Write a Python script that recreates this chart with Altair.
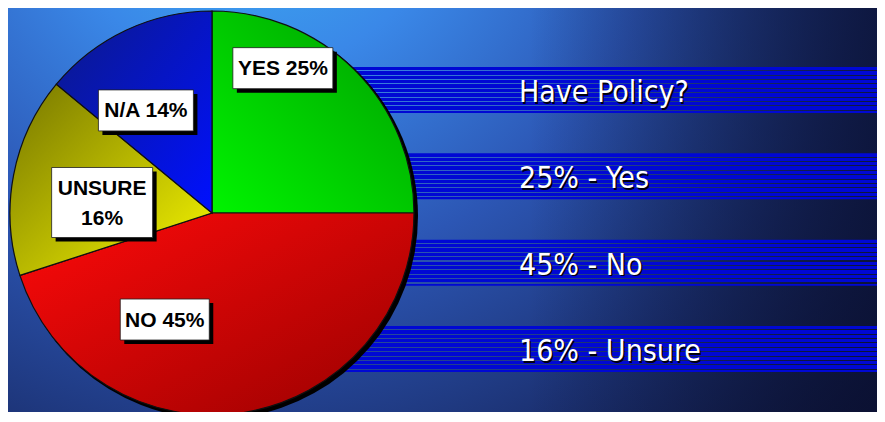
import altair as alt

# ---- data ----
categories = ["YES", "NO", "UNSURE", "N/A"]
values = [25, 45, 16, 14]
slice_labels = ["YES 25%", "NO 45%", "UNSURE\n16%", "N/A 14%"]
legend_lines = ["Have Policy?", "25% - Yes", "45% - No", "16% - Unsure"]

# ---- layout / style ----
W, H = 869, 404
CX, CY, R = 204, 205, 202
RL = 120  # label anchor radius
LH = 30   # label line height

slice_style = {
    "YES": dict(grad=(0, 1, 1, 0, "#00f400", "#009c00"), nudge=(-14, -60), box=(100, 41)),
    "NO": dict(grad=(0, 0, 1, 1, "#ff0a0a", "#980000"), nudge=(-66, -12), box=(89, 41)),
    "UNSURE": dict(grad=(0, 0, 1, 1, "#767600", "#f8f800"), nudge=(8, 12), box=(101, 70)),
    "N/A": dict(grad=(0, 0, 1, 1, "#0c1a88", "#0010ff"), nudge=(-15, 6), box=(95, 41)),
}

slices = [
    {"cat": c, "value": v, "label": l, "order": i}
    for i, (c, v, l) in enumerate(zip(categories, values, slice_labels))
]
lines = [{"line": t, "idx": i} for i, t in enumerate(legend_lines)]


def lin(x1, y1, x2, y2, c1, c2):
    return {"gradient": "linear", "x1": x1, "y1": y1, "x2": x2, "y2": y2,
            "stops": [{"offset": 0, "color": c1}, {"offset": 1, "color": c2}]}


one = alt.Data(values=[{"a": 1}])

# background
bg = alt.Chart(one).mark_rect(
    fill={"gradient": "radial", "x1": 0.28, "y1": 0.1, "x2": 0.28, "y2": 0.1,
          "r1": 0, "r2": 0.95,
          "stops": [{"offset": 0, "color": "#3cb6f4"},
                    {"offset": 0.25, "color": "#3a88e8"},
                    {"offset": 0.5, "color": "#2c56b4"},
                    {"offset": 0.75, "color": "#1c3274"},
                    {"offset": 1, "color": "#0e1436"}]}
).encode(x=alt.value(0), x2=alt.value(W), y=alt.value(0), y2=alt.value(H))

bg_dark = alt.Chart(one).mark_rect(
    fill={"gradient": "linear", "x1": 0, "y1": 0, "x2": 1, "y2": 0,
          "stops": [{"offset": 0, "color": "rgba(10,16,50,0)"},
                    {"offset": 0.6, "color": "rgba(10,16,50,0)"},
                    {"offset": 1, "color": "rgba(10,16,50,0.75)"}]}
).encode(x=alt.value(0), x2=alt.value(W), y=alt.value(0), y2=alt.value(H))

# striped bands
BLUE = "#0008d4"
CLEAR = "rgba(0,8,212,0)"
BH = 46
stops = [{"offset": 0, "color": BLUE}]
for i in range(10):
    g0 = (3.2 + 4.4 * i) / BH
    g1 = g0 + 1.1 / BH
    stops += [{"offset": g0, "color": BLUE}, {"offset": g0, "color": CLEAR},
              {"offset": g1, "color": CLEAR}, {"offset": g1, "color": BLUE}]
stops.append({"offset": 1, "color": BLUE})

yscale = alt.Scale(domain=[0, 3], range=[82, 341])

bands = alt.Chart(alt.Data(values=lines)).mark_rect(
    fill={"gradient": "linear", "x1": 0, "y1": 0, "x2": 0, "y2": 1, "stops": stops},
    yOffset=-23, y2Offset=23,
).encode(
    x=alt.value(308), x2=alt.value(W),
    y=alt.Y("idx:Q", scale=yscale, axis=None), y2=alt.Y2("idx:Q"),
)

FONT_R = "Liberation Sans Narrow, DejaVu Sans Condensed, sans-serif"
line_shadow = alt.Chart(alt.Data(values=lines)).mark_text(
    font=FONT_R, fontSize=30, align="left", baseline="alphabetic",
    dx=1.5, dy=13.5, color="#000010",
).encode(x=alt.value(511), y=alt.Y("idx:Q", scale=yscale, axis=None), text="line:N")
line_text = alt.Chart(alt.Data(values=lines)).mark_text(
    font=FONT_R, fontSize=30, align="left", baseline="alphabetic",
    dy=12, color="white",
).encode(x=alt.value(511), y=alt.Y("idx:Q", scale=yscale, axis=None), text="line:N")

# pie
base = alt.Chart(alt.Data(values=slices)).transform_window(
    cum="sum(value)", sort=[alt.SortField("order")], frame=[None, 0]
).transform_calculate(
    start="datum.cum - datum.value",
    mid="(datum.cum - datum.value / 2) / 100 * 2 * PI",
)

tscale = alt.Scale(domain=[0, 100], range=[0, 6.283185307179586])

pie_shadow = alt.Chart(alt.Data(values=slices)).mark_arc(
    x=CX + 3, y=CY + 3, radius=R + 1, fill="black"
).encode(theta=alt.Theta("value:Q", stack=True, scale=tscale), order="order:Q")

layers = [bg, bg_dark, bands, line_shadow, line_text, pie_shadow]

for c in categories:
    s = slice_style[c]
    x1, y1, x2, y2, c1, c2 = s["grad"]
    layers.append(
        base.transform_filter(alt.datum.cat == c).mark_arc(
            x=CX, y=CY, radius=R, fill=lin(x1, y1, x2, y2, c1, c2),
            stroke="#101010", strokeWidth=1.2,
        ).encode(
            theta=alt.Theta("start:Q", stack=None, scale=tscale),
            theta2="cum:Q",
        )
    )

for c, label in zip(categories, slice_labels):
    s = slice_style[c]
    nx, ny = s["nudge"]
    bw, bh = s["box"]
    nlines = label.count("\n") + 1
    lab = base.transform_filter(alt.datum.cat == c).transform_calculate(
        cx=f"{CX} + {RL} * sin(datum.mid) + ({nx})",
        cy=f"{CY} - {RL} * cos(datum.mid) + ({ny})",
    ).transform_calculate(
        bx="datum.cx - %f" % (bw / 2), bx2="datum.cx + %f" % (bw / 2),
        by="datum.cy - %f" % (bh / 2), by2="datum.cy + %f" % (bh / 2),
    )
    shadow = lab.mark_rect(fill="black", xOffset=4, x2Offset=4, yOffset=4, y2Offset=4).encode(
        x=alt.X("bx:Q", scale=None), x2="bx2:Q",
        y=alt.Y("by:Q", scale=None), y2="by2:Q",
    )
    box = lab.mark_rect(fill="white", stroke="#202020", strokeWidth=0.8).encode(
        x=alt.X("bx:Q", scale=None), x2="bx2:Q",
        y=alt.Y("by:Q", scale=None), y2="by2:Q",
    )
    txt = lab.mark_text(
        font="Liberation Sans, Arial, sans-serif", fontWeight="bold", fontSize=21,
        lineBreak="\n", lineHeight=LH, align="center", baseline="middle",
        color="black", dy=1 - (nlines - 1) * LH / 2,
    ).encode(
        x=alt.X("cx:Q", scale=None), y=alt.Y("cy:Q", scale=None), text="label:N"
    )
    layers += [shadow, box, txt]

chart = alt.layer(*layers).resolve_scale(
    x="independent", y="independent"
).properties(
    width=W, height=H, autosize="none", padding=0, background="#1a2a6a"
).configure_view(stroke=None)

chart.save("out.html", embed_options={"renderer": "svg", "actions": False})
